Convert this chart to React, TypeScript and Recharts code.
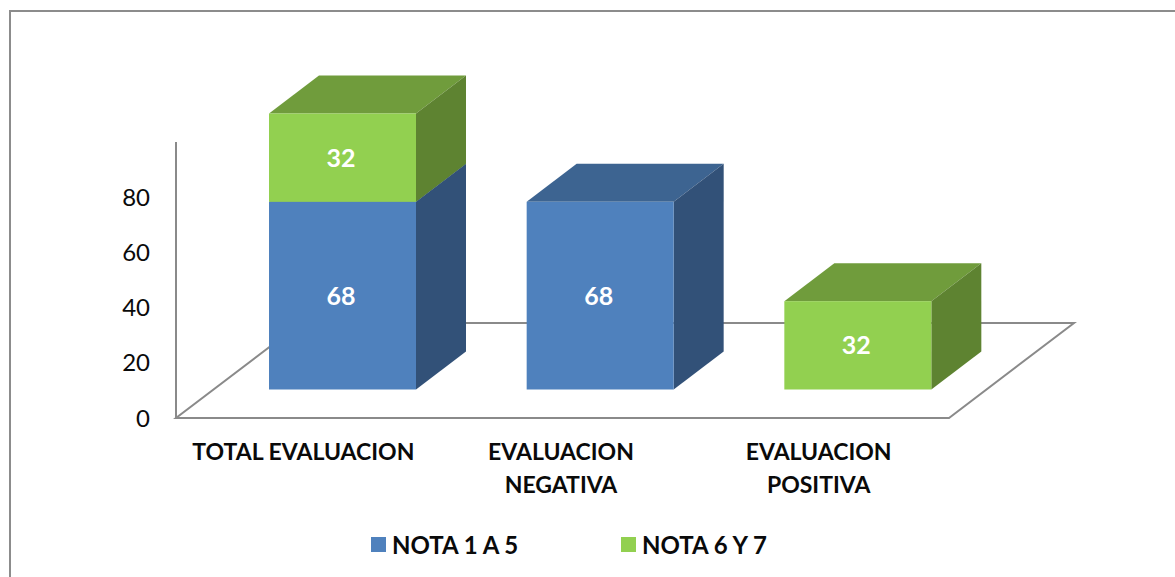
import React from 'react';
import { BarChart, Bar, XAxis, YAxis, Legend, LabelList, usePlotArea } from 'recharts';

const categoryLines = [['TOTAL EVALUACION'], ['EVALUACION', 'NEGATIVA'], ['EVALUACION', 'POSITIVA']];
const categories = categoryLines.map((lines) => lines.join(' '));
const nota15 = [68, 68, null];
const nota67 = [32, null, 32];
const yTicks = [0, 20, 40, 60, 80];

const data = categories.map((name, i) => ({ name, nota15: nota15[i], nota67: nota67[i] }));

const FONT = 'Lato, "Open Sans", sans-serif';
const AXIS = '#8a8a8a';
const SHIFT_X = 38;
const SHIFT_Y = -28.5;
const DEPTH_X = 50;
const DEPTH_Y = 38;
const FLOOR_X = 125;
const FLOOR_Y = 95;

const Floor = () => {
  const p = usePlotArea();
  if (!p) return null;
  const l = p.x;
  const r = p.x + p.width;
  const b = p.y + p.height;
  const pts = `${l},${b} ${r},${b} ${r + FLOOR_X},${b - FLOOR_Y} ${l + FLOOR_X},${b - FLOOR_Y}`;
  return <polygon points={pts} fill="#ffffff" stroke={AXIS} strokeWidth={2} strokeLinejoin="miter" />;
};

const makeBox = (front: string, top: string, side: string) => (props: any) => {
  const { x, y, width, height } = props;
  if (!height || !isFinite(height) || !isFinite(y)) return <g />;
  const fx = x + SHIFT_X;
  const fy = y + SHIFT_Y;
  const r = fx + width;
  const b = fy + height;
  return (
    <g>
      <polygon
        points={`${fx},${fy} ${fx + DEPTH_X},${fy - DEPTH_Y} ${r + DEPTH_X},${fy - DEPTH_Y} ${r},${fy}`}
        fill={top}
      />
      <polygon
        points={`${r},${fy} ${r + DEPTH_X},${fy - DEPTH_Y} ${r + DEPTH_X},${b - DEPTH_Y} ${r},${b}`}
        fill={side}
      />
      <rect x={fx} y={fy} width={width} height={height} fill={front} />
    </g>
  );
};

const BlueBox = makeBox('#4f81bd', '#3d6491', '#325178');
const GreenBox = makeBox('#92d050', '#709c3c', '#5e8331');

const BoxLabel = (props: any) => {
  const { x, y, width, height, value } = props;
  if (value === null || value === undefined || !height) return null;
  return (
    <text
      x={x + width / 2 + SHIFT_X - 1.5}
      y={y + height / 2 + SHIFT_Y}
      dy="0.36em"
      textAnchor="middle"
      fill="#ffffff"
      fontFamily={FONT}
      fontWeight={700}
      fontSize={25}
    >
      {value}
    </text>
  );
};

const CategoryTick = (props: any) => {
  const { x, y, payload } = props;
  const lines = categoryLines[categories.indexOf(payload.value)] || [payload.value];
  return (
    <text
      x={x - 1.5}
      y={y + 34}
      textAnchor="middle"
      fill="#0a0a0a"
      fontFamily={FONT}
      fontWeight={700}
      fontSize={23}
    >
      {lines.map((line: string, i: number) => (
        <tspan key={line} x={x - 1.5} dy={i === 0 ? 0 : 33}>
          {line}
        </tspan>
      ))}
    </text>
  );
};

const LegendContent = (props: any) => {
  const items = props.payload || [];
  return (
    <div style={{ display: 'flex', fontFamily: FONT, fontWeight: 700, fontSize: 24, color: '#0a0a0a' }}>
      {items.map((it: any) => (
        <div key={it.value} style={{ display: 'flex', alignItems: 'center', width: 250, height: 32 }}>
          <span style={{ width: 15, height: 15, background: it.color, marginRight: 6, display: 'inline-block' }} />
          <span>{it.value}</span>
        </div>
      ))}
    </div>
  );
};

export default function App() {
  return (
    <div style={{ position: 'absolute', left: 0, top: 0, width: 1175, height: 577, background: '#ffffff', overflow: 'hidden' }}>
      <div
        style={{
          position: 'absolute',
          left: 9,
          top: 10,
          width: 1180,
          height: 580,
          borderLeft: '2px solid #8c8c8c',
          borderTop: '2px solid #8c8c8c',
        }}
      />
      <div style={{ position: 'absolute', left: 0, top: 0 }}>
        <BarChart
          width={1175}
          height={577}
          data={data}
          barSize={147}
          margin={{ top: 142, right: 226, bottom: 0, left: 0 }}
        >
          <Floor />
          <XAxis
            dataKey="name"
            height={159}
            tick={CategoryTick}
            tickLine={false}
            axisLine={{ stroke: AXIS, strokeWidth: 2 }}
            interval={0}
          />
          <YAxis
            width={176}
            domain={[0, 100]}
            ticks={yTicks}
            tickLine={false}
            tickSize={0}
            tickMargin={26}
            axisLine={{ stroke: AXIS, strokeWidth: 2 }}
            tick={{ fill: '#0a0a0a', fontFamily: FONT, fontSize: 24 }}
          />
          <Legend
            layout="horizontal"
            verticalAlign="middle"
            align="center"
            content={LegendContent}
            wrapperStyle={{ left: 371, top: 528, width: 520 }}
          />
          <Bar dataKey="nota15" name="NOTA 1 A 5" stackId="a" fill="#4f81bd" shape={BlueBox} isAnimationActive={false}>
            <LabelList dataKey="nota15" content={BoxLabel} />
          </Bar>
          <Bar dataKey="nota67" name="NOTA 6 Y 7" stackId="a" fill="#92d050" shape={GreenBox} isAnimationActive={false}>
            <LabelList dataKey="nota67" content={BoxLabel} />
          </Bar>
        </BarChart>
      </div>
    </div>
  );
}
